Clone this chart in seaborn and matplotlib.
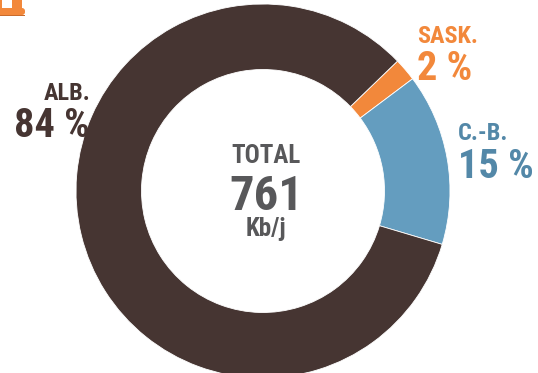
import matplotlib
matplotlib.use("Agg")
import matplotlib.pyplot as plt
from matplotlib.patches import Rectangle, FancyBboxPatch
import seaborn as sns

# Share of production by province (percent)
provinces = ["SASK.", "C.-B.", "ALB."]
shares = [2, 15, 84]
total_value = 761
total_unit = "Kb/j"

slice_colors = ["#F2883B", "#649DBF", "#463532"]
label_colors = ["#F2883B", "#5388A8", "#463532"]
center_color = "#58585A"

sns.set_theme(style="white")
plt.rcParams["font.family"] = ["Roboto Condensed", "Liberation Sans Narrow", "Roboto", "DejaVu Sans"]
plt.rcParams["font.weight"] = "bold"

W, H = 538, 373
fig = plt.figure(figsize=(W / 100, H / 100), dpi=100)
ax = fig.add_axes([0, 0, 1, 1])

cx, cy = 263, H - 191
r_out = 187
ring = 65.5

ax.pie(shares, colors=slice_colors, startangle=44, counterclock=False,
       center=(cx, cy), radius=r_out,
       wedgeprops=dict(width=ring, edgecolor="white", linewidth=0.6))
ax.set_xlim(0, W)
ax.set_ylim(0, H)
ax.set_aspect("auto")
ax.axis("off")


def Y(y):
    return H - y


# Province labels: (x, name baseline, value baseline, horizontal alignment)
label_layout = {
    "SASK.": (417, 43, 80, "left"),
    "C.-B.": (458, 140, 178, "left"),
    "ALB.": (90, 100, 137, "right"),
}
for name, val, col in zip(provinces, shares, label_colors):
    x, yn, yv, ha = label_layout[name]
    ax.text(x, Y(yn), name, color=col, fontsize=17.5, fontweight="bold",
            ha=ha, va="baseline")
    ax.text(x, Y(yv), f"{val} %", color=col, fontsize=29, fontweight="bold",
            ha=ha, va="baseline")

# Total in the hole
ax.text(cx + 3, Y(163), "TOTAL", color=center_color, fontsize=18,
        fontweight="bold", ha="center", va="baseline")
ax.text(cx + 3, Y(210), f"{total_value}", color=center_color, fontsize=35,
        fontweight="bold", ha="center", va="baseline")
ax.text(cx + 3, Y(236), total_unit, color=center_color, fontsize=18,
        fontweight="bold", ha="center", va="baseline")

# Small orange header mark in the corner
ax.add_patch(FancyBboxPatch((-6, Y(15)), 31, 7, boxstyle="round,pad=0,rounding_size=3",
                            facecolor="#F2883B", edgecolor="none"))
ax.add_patch(Rectangle((-6, Y(16)), 31, 1.5, facecolor="#C96B2C", edgecolor="none"))
ax.add_patch(Rectangle((12, Y(8)), 10, 8, facecolor="#F2883B", edgecolor="none"))
ax.add_patch(Rectangle((0, Y(8)), 2, 8, facecolor="#F2883B", edgecolor="none"))

fig.savefig("out.png", dpi=100, facecolor="white")
